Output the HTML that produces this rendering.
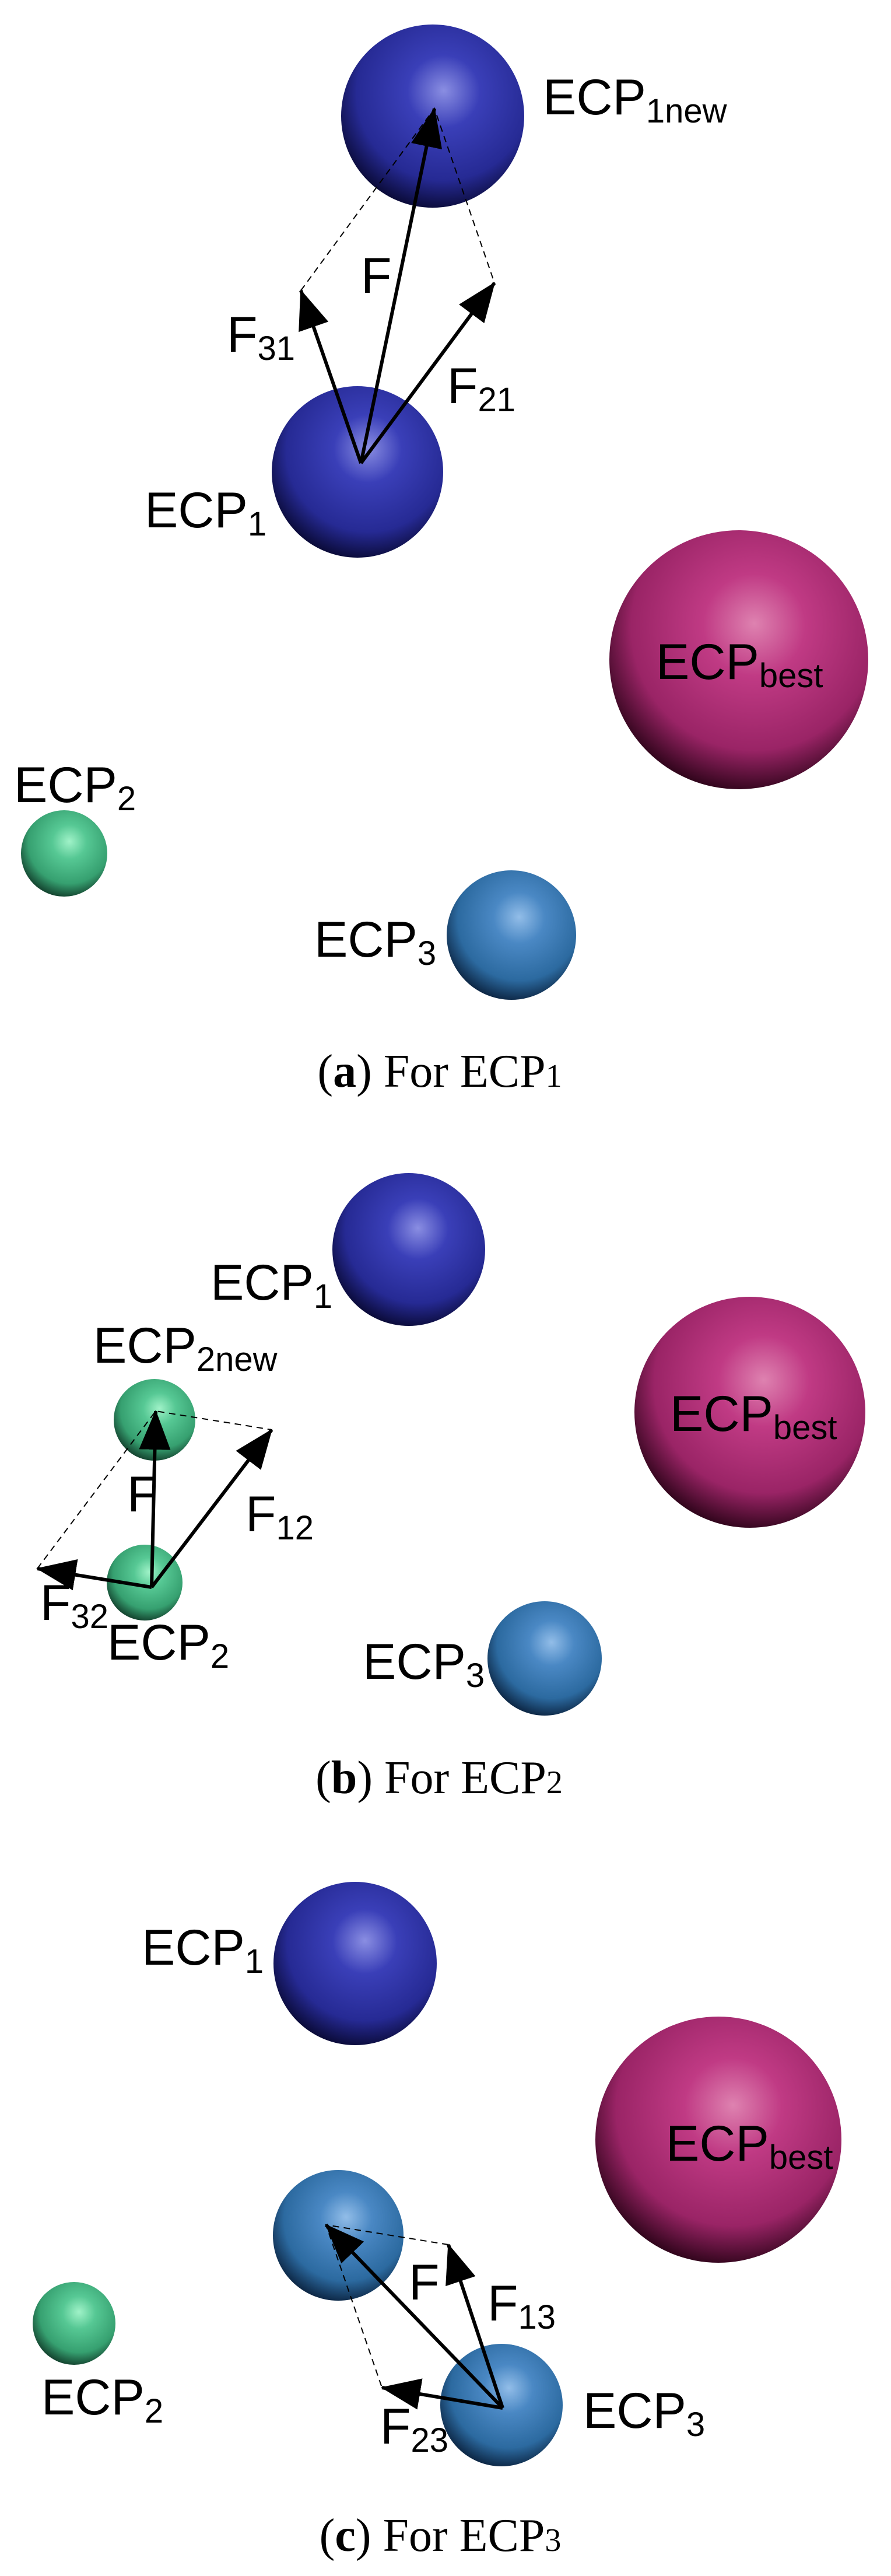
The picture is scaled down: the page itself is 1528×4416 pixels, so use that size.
<!DOCTYPE html>
<html><head><meta charset="utf-8"><style>
html,body{margin:0;padding:0;background:#fff;}
svg{display:block;}
.l{font-family:"Liberation Sans",Arial,sans-serif;font-size:86px;fill:#000;}
.c{font-family:"Liberation Serif",serif;font-size:80px;fill:#000;}
</style></head><body>
<svg width="1528" height="4416" viewBox="0 0 1528 4416" xmlns="http://www.w3.org/2000/svg">
<defs>
<radialGradient id="gb" cx="0.56" cy="0.38" r="0.66" fx="0.56" fy="0.36">
<stop offset="0" stop-color="#8a8ee2"/><stop offset="0.3" stop-color="#3a3fb8"/><stop offset="0.72" stop-color="#262a94"/><stop offset="1" stop-color="#06062a"/></radialGradient>
<radialGradient id="gp" cx="0.56" cy="0.38" r="0.66" fx="0.56" fy="0.36">
<stop offset="0" stop-color="#de82b0"/><stop offset="0.3" stop-color="#c03a84"/><stop offset="0.72" stop-color="#9a2466"/><stop offset="1" stop-color="#200010"/></radialGradient>
<radialGradient id="gt" cx="0.56" cy="0.38" r="0.66" fx="0.56" fy="0.36">
<stop offset="0" stop-color="#92bde8"/><stop offset="0.3" stop-color="#4a88c4"/><stop offset="0.72" stop-color="#2c6aa0"/><stop offset="1" stop-color="#081c36"/></radialGradient>
<radialGradient id="gg" cx="0.56" cy="0.38" r="0.66" fx="0.56" fy="0.36">
<stop offset="0" stop-color="#a0f2c8"/><stop offset="0.3" stop-color="#56c894"/><stop offset="0.72" stop-color="#36a070"/><stop offset="1" stop-color="#0e3424"/></radialGradient>
<marker id="ah" markerUnits="userSpaceOnUse" markerWidth="70" markerHeight="60" refX="66" refY="27" orient="auto">
<path d="M0,0 L68,27 L0,54 Z" fill="#000"/></marker>
</defs>
<g stroke="none">
<circle cx="742" cy="199" r="157" fill="url(#gb)"/>
<circle cx="613" cy="809" r="147" fill="url(#gb)"/>
<circle cx="1267" cy="1131" r="222" fill="url(#gp)"/>
<circle cx="110" cy="1463" r="74" fill="url(#gg)"/>
<circle cx="877" cy="1603" r="111" fill="url(#gt)"/>
<circle cx="701" cy="2142" r="131" fill="url(#gb)"/>
<circle cx="1286" cy="2421" r="198" fill="url(#gp)"/>
<circle cx="934" cy="2843" r="98" fill="url(#gt)"/>
<circle cx="265" cy="2434" r="70" fill="url(#gg)"/>
<circle cx="248" cy="2713" r="65" fill="url(#gg)"/>
<circle cx="609" cy="3366" r="140" fill="url(#gb)"/>
<circle cx="1232" cy="3668" r="211" fill="url(#gp)"/>
<circle cx="580" cy="3832" r="112" fill="url(#gt)"/>
<circle cx="860" cy="4123" r="105" fill="url(#gt)"/>
<circle cx="127" cy="3983" r="71" fill="url(#gg)"/>
</g>
<g stroke="#000" stroke-width="2" stroke-dasharray="11,8" fill="none">
<path d="M516,498 L745,186 L848,485"/>
<path d="M64,2689 L267,2419 L466,2451"/>
<path d="M769,3848 L559,3814 L655,4093"/>
</g>
<g stroke="#000" stroke-width="6" fill="none" marker-end="url(#ah)">
<line x1="619" y1="794" x2="745" y2="186"/>
<line x1="619" y1="794" x2="516" y2="498"/>
<line x1="619" y1="794" x2="848" y2="485"/>
<line x1="260" y1="2721" x2="267" y2="2419"/>
<line x1="260" y1="2721" x2="466" y2="2451"/>
<line x1="260" y1="2721" x2="64" y2="2689"/>
<line x1="862" y1="4128" x2="559" y2="3814"/>
<line x1="862" y1="4128" x2="769" y2="3848"/>
<line x1="862" y1="4128" x2="655" y2="4093"/>
</g>
<g class="l">
<text class="l" x="931" y="196">ECP<tspan font-size="58" dy="14">1new</tspan></text>
<text class="l" x="248" y="904">ECP<tspan font-size="58" dy="14">1</tspan></text>
<text class="l" x="389" y="603">F<tspan font-size="58" dy="14">31</tspan></text>
<text class="l" x="619" y="502">F</text>
<text class="l" x="767" y="691">F<tspan font-size="58" dy="14">21</tspan></text>
<text class="l" x="1125" y="1164">ECP<tspan font-size="58" dy="14">best</tspan></text>
<text class="l" x="24" y="1375">ECP<tspan font-size="58" dy="14">2</tspan></text>
<text class="l" x="539" y="1640">ECP<tspan font-size="58" dy="14">3</tspan></text>

<text class="l" x="361" y="2228">ECP<tspan font-size="58" dy="14">1</tspan></text>
<text class="l" x="160" y="2336">ECP<tspan font-size="58" dy="14">2new</tspan></text>
<text class="l" x="218" y="2591">F</text>
<text class="l" x="421" y="2625">F<tspan font-size="58" dy="14">12</tspan></text>
<text class="l" x="69" y="2777">F<tspan font-size="58" dy="14">32</tspan></text>
<text class="l" x="184" y="2845">ECP<tspan font-size="58" dy="14">2</tspan></text>
<text class="l" x="622" y="2878">ECP<tspan font-size="58" dy="14">3</tspan></text>
<text class="l" x="1149" y="2453">ECP<tspan font-size="58" dy="14">best</tspan></text>

<text class="l" x="243" y="3368">ECP<tspan font-size="58" dy="14">1</tspan></text>
<text class="l" x="1142" y="3704">ECP<tspan font-size="58" dy="14">best</tspan></text>
<text class="l" x="701" y="3942">F</text>
<text class="l" x="836" y="3978">F<tspan font-size="58" dy="14">13</tspan></text>
<text class="l" x="652" y="4189">F<tspan font-size="58" dy="14">23</tspan></text>
<text class="l" x="71" y="4139">ECP<tspan font-size="58" dy="14">2</tspan></text>
<text class="l" x="1000" y="4162">ECP<tspan font-size="58" dy="14">3</tspan></text>
</g>
<text class="c" x="754" y="1863" text-anchor="middle">(<tspan font-weight="bold">a</tspan>) For ECP<tspan font-size="56">1</tspan></text>
<text class="c" x="753" y="3074" text-anchor="middle">(<tspan font-weight="bold">b</tspan>) For ECP<tspan font-size="56">2</tspan></text>
<text class="c" x="755" y="4373" text-anchor="middle">(<tspan font-weight="bold">c</tspan>) For ECP<tspan font-size="56">3</tspan></text>
</svg>
</body></html>
